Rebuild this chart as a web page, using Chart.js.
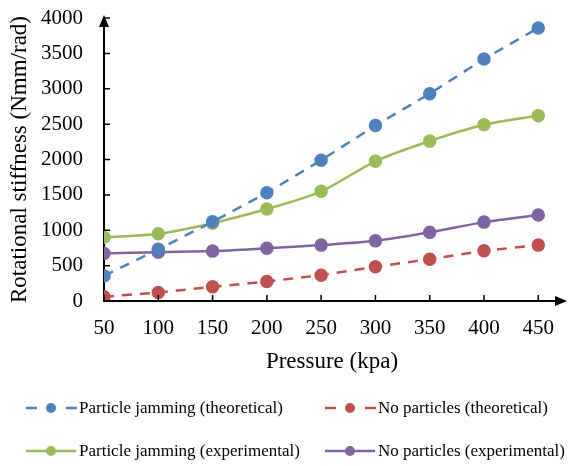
<!DOCTYPE html>
<html>
<head>
<meta charset="utf-8">
<script src="https://cdn.jsdelivr.net/npm/chart.js@4"></script>
<style>
  html, body { margin: 0; padding: 0; background: #fff; }
  #wrap { width: 570px; height: 466px; }
</style>
</head>
<body>
<div id="wrap"><canvas id="stiffness"></canvas></div>
<script>
const pressure = [50, 100, 150, 200, 250, 300, 350, 400, 450];
const jammingTheory = [355, 730, 1120, 1530, 1990, 2480, 2930, 3420, 3860];
const plainTheory = [60, 120, 200, 275, 365, 485, 590, 710, 790];
const jammingExp = [900, 950, 1100, 1300, 1550, 1975, 2260, 2490, 2620];
const plainExp = [670, 690, 705, 745, 790, 850, 970, 1115, 1215];
const yTicks = [0, 500, 1000, 1500, 2000, 2500, 3000, 3500, 4000];

const serif = "'Liberation Serif', 'Times New Roman', serif";
const legendOrder = [0, 2, 1, 3];
const legendSlots = [[26, 408], [325, 408], [26, 451], [325, 451]];

function pts(vals) {
  return vals.map((v, i) => ({ x: pressure[i], y: v }));
}

// inward tick marks, arrow heads on both axes, two-column legend at the bottom
const extras = {
  id: 'extras',
  afterDraw(chart) {
    const c = chart.ctx, a = chart.chartArea;
    const xs = chart.scales.x, ys = chart.scales.y;
    c.save();
    c.strokeStyle = '#000';
    c.lineWidth = 1.5;
    c.beginPath();
    pressure.forEach(v => {
      const px = xs.getPixelForValue(v);
      c.moveTo(px, a.bottom); c.lineTo(px, a.bottom - 6);
    });
    yTicks.forEach(v => {
      const py = ys.getPixelForValue(v);
      c.moveTo(a.left, py); c.lineTo(a.left + 6, py);
    });
    c.stroke();

    c.fillStyle = '#000';
    c.beginPath();
    c.moveTo(a.right + 7, a.bottom);
    c.lineTo(a.right - 5, a.bottom - 5);
    c.lineTo(a.right - 5, a.bottom + 5);
    c.fill();
    c.beginPath();
    c.moveTo(a.left, a.top - 3);
    c.lineTo(a.left - 5, a.top + 9);
    c.lineTo(a.left + 5, a.top + 9);
    c.fill();

    chart.data.datasets.forEach((ds, i) => {
      const [x, y] = legendSlots[legendOrder.indexOf(i)];
      c.strokeStyle = ds.borderColor;
      c.lineWidth = 2.5;
      c.beginPath();
      if (ds.borderDash) {
        c.moveTo(x, y); c.lineTo(x + 11, y);
        c.moveTo(x + 40, y); c.lineTo(x + 51, y);
      } else {
        c.moveTo(x, y); c.lineTo(x + 50, y);
      }
      c.stroke();
      c.fillStyle = ds.backgroundColor;
      c.beginPath();
      c.arc(x + 25, y, 5, 0, Math.PI * 2);
      c.fill();
      c.fillStyle = '#000';
      c.font = '17px ' + serif;
      c.textBaseline = 'middle';
      c.fillText(ds.label, x + 53, y + 1);
    });
    c.restore();
  }
};

// library tick marks kept invisible: they only space the labels off the axis
const hiddenTicks = len => ({
  display: true, drawOnChartArea: false, drawTicks: true,
  tickLength: len, color: 'rgba(0,0,0,0)'
});

new Chart(document.getElementById('stiffness'), {
  type: 'line',
  data: {
    datasets: [
      {
        label: 'Particle jamming (theoretical)',
        data: pts(jammingTheory),
        borderColor: '#4F81BD', backgroundColor: '#4F81BD',
        borderDash: [10, 8], borderWidth: 2.5, pointRadius: 5.5
      },
      {
        label: 'Particle jamming (experimental)',
        data: pts(jammingExp),
        borderColor: '#9BBB59', backgroundColor: '#9BBB59',
        borderWidth: 2.5, pointRadius: 5.5, tension: 0.3
      },
      {
        label: 'No particles (theoretical)',
        data: pts(plainTheory),
        borderColor: '#C0504D', backgroundColor: '#C0504D',
        borderDash: [10, 8], borderWidth: 2.5, pointRadius: 5.5
      },
      {
        label: 'No particles (experimental)',
        data: pts(plainExp),
        borderColor: '#8064A2', backgroundColor: '#8064A2',
        borderWidth: 2.5, pointRadius: 5.5, tension: 0.3
      }
    ]
  },
  options: {
    responsive: true,
    maintainAspectRatio: false,
    animation: false,
    layout: { padding: { left: 0, right: 10, top: 18, bottom: 86 } },
    plugins: { legend: { display: false }, tooltip: { enabled: false } },
    scales: {
      x: {
        type: 'linear',
        min: 50, max: 470,
        afterBuildTicks(scale) {
          scale.ticks = pressure.map(v => ({ value: v }));
        },
        afterFit(scale) { scale.height = 79; },
        grid: hiddenTicks(11),
        border: { color: '#000', width: 2 },
        ticks: { color: '#000', font: { family: serif, size: 21 }, padding: 4, maxRotation: 0 },
        title: {
          display: true, text: 'Pressure (kpa)', color: '#000',
          font: { family: serif, size: 23 }, padding: { top: 2, bottom: 4 }
        }
      },
      y: {
        min: 0, max: 4000,
        afterBuildTicks(scale) {
          scale.ticks = yTicks.map(v => ({ value: v }));
        },
        afterFit(scale) { scale.width = 104; },
        grid: hiddenTicks(18),
        border: { color: '#000', width: 2 },
        ticks: {
          color: '#000', font: { family: serif, size: 21 }, padding: 3,
          callback: v => String(v)
        },
        title: {
          display: true, text: 'Rotational stiffness (Nmm/rad)', color: '#000',
          font: { family: serif, size: 23 }, padding: { top: 6, bottom: 0 }
        }
      }
    }
  },
  plugins: [extras]
});
</script>
</body>
</html>
